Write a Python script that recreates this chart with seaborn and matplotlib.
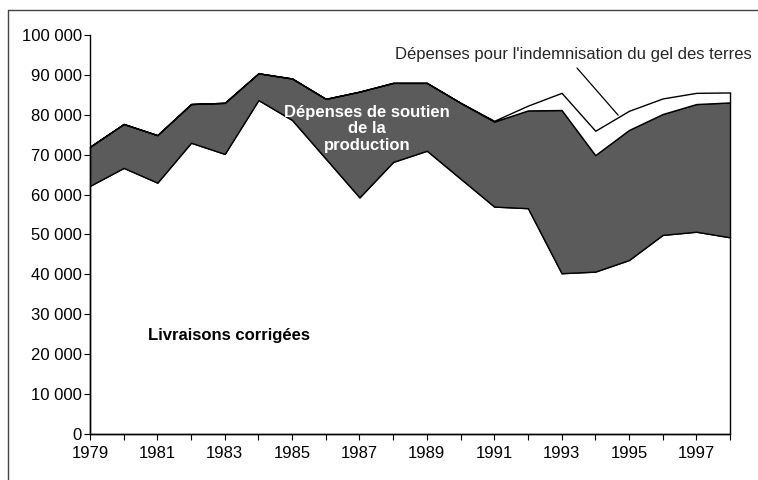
import matplotlib
matplotlib.use("Agg")
import matplotlib.pyplot as plt
import matplotlib.ticker as mticker
from matplotlib.lines import Line2D
import seaborn as sns

# Values (same unit as the y axis).
years = list(range(1979, 1999))
livraisons = [62200, 66700, 63000, 73000, 70200, 83700, 78700, 69000, 59300, 68200,
              71000, 64000, 57000, 56600, 40300, 40700, 43600, 49900, 50700, 49300]
soutien = [9800, 11000, 11900, 9700, 12800, 6700, 10400, 15000, 26500, 19800,
           17000, 19000, 21300, 24500, 40900, 29200, 32600, 30300, 32000, 33800]
gel = [0, 0, 0, 0, 0, 0, 0, 0, 0, 0,
       0, 0, 200, 1200, 4300, 6100, 4800, 3900, 2800, 2500]

label_liv = "Livraisons corrigées"
label_sout = "Dépenses de soutien\nde la\nproduction"
label_gel = "Dépenses pour l'indemnisation du gel des terres"

sns.set_style("ticks")
plt.rcParams["font.family"] = ["Liberation Sans", "DejaVu Sans"]

W, H = 758, 480
fig = plt.figure(figsize=(W / 100, H / 100), dpi=100)
ax = fig.add_axes([90 / W, 1 - 434 / H, 640 / W, 399 / H])

polys = ax.stackplot(years, livraisons, soutien, gel,
                     colors=["white", "#5b5b5b", "white"],
                     edgecolor="black", linewidth=1.0)
for p in polys:
    p.set_clip_on(False)

ax.set_xlim(1979, 1998)
ax.set_ylim(0, 100000)
ax.set_yticks(range(0, 100001, 10000))
ax.yaxis.set_major_formatter(
    mticker.FuncFormatter(lambda v, pos: f"{int(v):,}".replace(",", " ")))
ax.set_xticks(years)
ax.set_xticklabels([str(y) if (y - 1979) % 2 == 0 else "" for y in years])
ax.tick_params(axis="both", direction="out", length=4, width=0.8,
               labelsize=12, colors="black")
ax.tick_params(axis="x", pad=5)
ax.tick_params(axis="y", pad=2)
sns.despine(ax=ax, top=True, right=True)
for s in ["left", "bottom"]:
    ax.spines[s].set_linewidth(1.0)
    ax.spines[s].set_color("black")

# labels on the chart
ax.text(1980.72, 24800, label_liv, fontsize=12, fontweight="bold",
        ha="left", va="center", color="black")
ax.text(1987.22, 76500, label_sout, fontsize=12, fontweight="bold",
        ha="center", va="center", color="white", linespacing=1.12)
fig.text(395 / W, 1 - 55 / H, label_gel, fontsize=12, ha="left", va="center")
ax.annotate("", xy=(1994.68, 79900), xycoords="data",
            xytext=(577 / W, 1 - 68 / H), textcoords="figure fraction",
            arrowprops=dict(arrowstyle="-", color="black", lw=0.9,
                            shrinkA=0, shrinkB=0))

# outer frame (left and top visible)
fig.add_artist(Line2D([8 / W, 8 / W], [0, 1 - 10 / H], transform=fig.transFigure,
                      color="#444444", lw=1.0))
fig.add_artist(Line2D([8 / W, 1], [1 - 10 / H, 1 - 10 / H], transform=fig.transFigure,
                      color="#444444", lw=1.0))

fig.savefig("out.png", dpi=100)
